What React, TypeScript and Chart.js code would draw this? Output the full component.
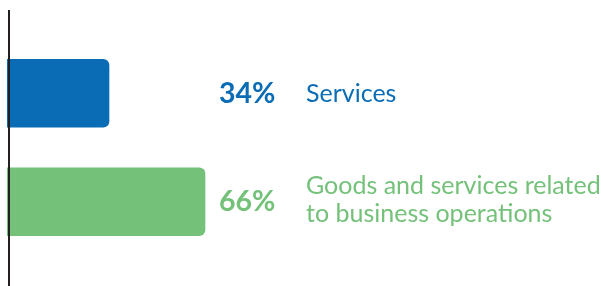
import React, { useEffect, useRef } from "react";
import { Chart, registerables } from "chart.js";

Chart.register(...registerables);

const categories = ["Services", "Goods and services related to business operations"];
const values = [34, 66];
const percentLabels = ["34%", "66%"];
const descriptionLines = [["Services"], ["Goods and services related", "to business operations"]];
const colors = ["#0a6cb5", "#74c17a"];

const labelPlugin = {
  id: "labelPlugin",
  afterDatasetsDraw(chart: any) {
    const ctx = chart.ctx;
    const meta = chart.getDatasetMeta(0);
    ctx.save();
    // vertical axis line
    ctx.strokeStyle = "#231f20";
    ctx.lineWidth = 2;
    ctx.beginPath();
    ctx.moveTo(9, 10);
    ctx.lineTo(9, chart.height);
    ctx.stroke();
    meta.data.forEach((bar: any, i: number) => {
      const cy = bar.y;
      ctx.fillStyle = colors[i];
      ctx.textAlign = "left";
      ctx.textBaseline = "alphabetic";
      ctx.font = "bold 28.5px Lato";
      ctx.fillText(percentLabels[i], 219, cy + 9.5);
      ctx.font = "25px Lato";
      const lines = descriptionLines[i];
      const lh = 27.5;
      const start = cy + 8.5 - ((lines.length - 1) * lh) / 2 - (lines.length > 1 ? 2.5 : 0);
      lines.forEach((ln, j) => {
        ctx.fillText(ln, 306, start + j * lh);
      });
    });
    ctx.restore();
  },
};

export default function App() {
  const ref = useRef<HTMLCanvasElement>(null);
  useEffect(() => {
    const chart = new Chart(ref.current!, {
      type: "bar",
      data: {
        labels: categories,
        datasets: [
          {
            data: values,
            backgroundColor: colors,
            borderRadius: 6,
            borderSkipped: "start",
            barThickness: 68,
          },
        ],
      },
      options: {
        indexAxis: "y",
        animation: false,
        responsive: false,
        maintainAspectRatio: false,
        layout: { padding: { left: 7, right: 296, top: 39, bottom: 30 } },
        plugins: { legend: { display: false }, tooltip: { enabled: false } },
        scales: {
          x: { min: 0, max: 100, display: false },
          y: { display: false },
        },
      },
      plugins: [labelPlugin],
    });
    return () => chart.destroy();
  }, []);
  return (
    <div style={{ position: "fixed", left: 0, top: 0, width: 603, height: 286, background: "#fff" }}>
      <canvas ref={ref} width={603} height={286} />
    </div>
  );
}
